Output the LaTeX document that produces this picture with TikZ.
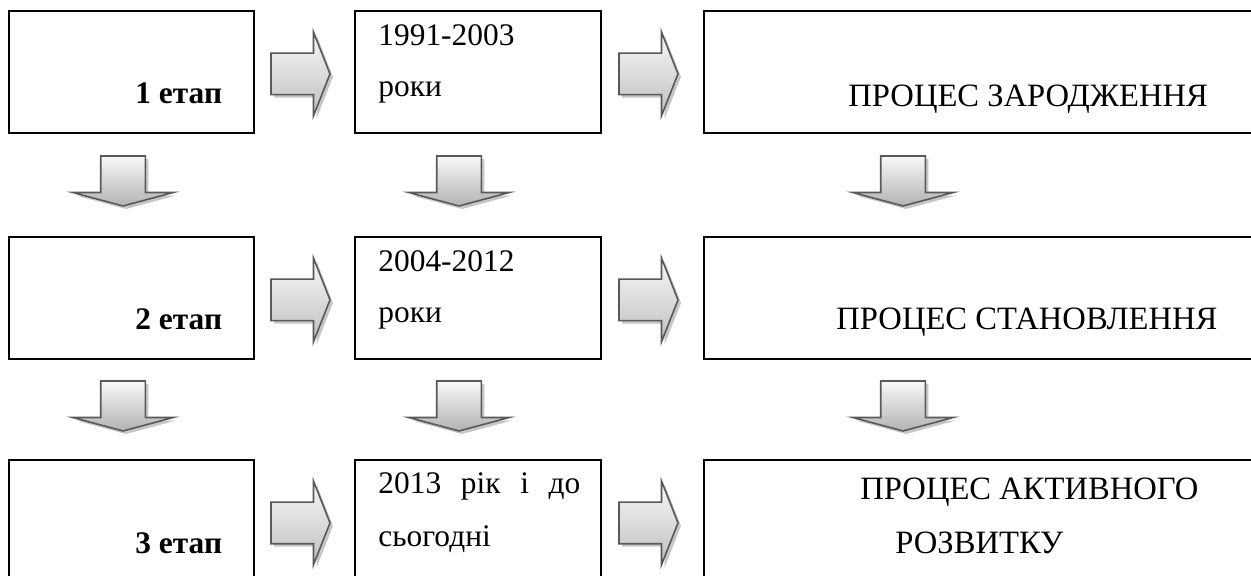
\documentclass[tikz,border=0pt]{standalone}
\usepackage{fontspec}
\setmainfont{Liberation Serif}
\usetikzlibrary{positioning,calc,shapes.arrows,shadows}

\begin{document}
\begin{tikzpicture}[x=0.5pt, y=-0.5pt,
  box/.style={rectangle, draw, line width=0.9pt, anchor=north west, minimum height=61pt, inner sep=0pt},
  blockarrow/.style={single arrow, draw=gray!70!black, line width=0.8pt, single arrow head indent=0pt, drop shadow={shadow xshift=1.5pt, shadow yshift=-1.5pt, opacity=0.45, fill=gray}},
  arrowright/.style={blockarrow, xshift=-4pt, yshift=-1pt, inner xsep=0pt, inner ysep=10pt, minimum height=29.5pt, single arrow head extend=10.5pt, single arrow tip angle=137, top color=gray!6, bottom color=gray!50},
  arrowdown/.style={blockarrow, shape border rotate=270, inner xsep=10.75pt, inner ysep=0pt, minimum height=25pt, single arrow head extend=14pt, single arrow tip angle=150, top color=gray!5, bottom color=gray!60},
  txt/.style={anchor=base west, inner sep=0pt, font=\fontsize{15.7}{20}\selectfont},
  etap/.style={txt, font=\fontsize{15.7}{20}\selectfont\bfseries},
  proc/.style={txt, font=\fontsize{16.3}{20}\selectfont}]
  \useasboundingbox (0,0) rectangle (1251,576);
  \clip (0,0) rectangle (1251,576);

  % boxes
  \node[box, minimum width=122.5pt] (a1) at (8,10) {};
  \node[box, minimum width=123pt] (b1) at (354,10) {};
  \node[box, minimum width=280pt] (c1) at (703,10) {};
  \node[box, minimum width=122.5pt] (a2) at (8,236) {};
  \node[box, minimum width=123pt] (b2) at (354,236) {};
  \node[box, minimum width=280pt] (c2) at (703,236) {};
  \node[box, minimum width=122.5pt] (a3) at (8,459) {};
  \node[box, minimum width=123pt] (b3) at (354,459) {};
  \node[box, minimum width=280pt] (c3) at (703,459) {};

  % texts
  \node[etap] (e1) at (135,104) {1 етап};
  \node[etap] (e2) at (135,330) {2 етап};
  \node[etap] (e3) at (135,553) {3 етап};
  \node[txt] (y1) at (378,46) {1991-2003};
  \node[txt] (r1) at (378,97) {роки};
  \node[txt] (y2) at (378,272) {2004-2012};
  \node[txt] (r2) at (378,323) {роки};
  \node[txt] (y3) at (378,493) {\makebox[101pt][s]{2013 рік і до}};
  \node[txt] (r3) at (378,546) {сьогодні};
  \node[proc] (p1) at (848,107) {ПРОЦЕС ЗАРОДЖЕННЯ};
  \node[proc] (p2) at (836,330) {ПРОЦЕС СТАНОВЛЕННЯ};
  \node[proc] (p3) at (860,499) {ПРОЦЕС АКТИВНОГО};
  \node[proc] (p4) at (895,553) {РОЗВИТКУ};

  % arrows between columns
  \node[arrowright] (ab1) at ($(a1.east)!0.5!(b1.west)$) {};
  \node[arrowright] (bc1) at ($(b1.east)!0.5!(c1.west)$) {};
  \node[arrowright] (ab2) at ($(a2.east)!0.5!(b2.west)$) {};
  \node[arrowright] (bc2) at ($(b2.east)!0.5!(c2.west)$) {};
  \node[arrowright] (ab3) at ($(a3.east)!0.5!(b3.west)$) {};
  \node[arrowright] (bc3) at ($(b3.east)!0.5!(c3.west)$) {};

  % arrows between rows
  \node[arrowdown] (aa1) at (123,178) {};
  \node[arrowdown] (bb1) at (459,178) {};
  \node[arrowdown] (cc1) at (903,178) {};
  \node[arrowdown] (aa2) at (123,403) {};
  \node[arrowdown] (bb2) at (459,403) {};
  \node[arrowdown] (cc2) at (903,403) {};
\end{tikzpicture}
\end{document}
